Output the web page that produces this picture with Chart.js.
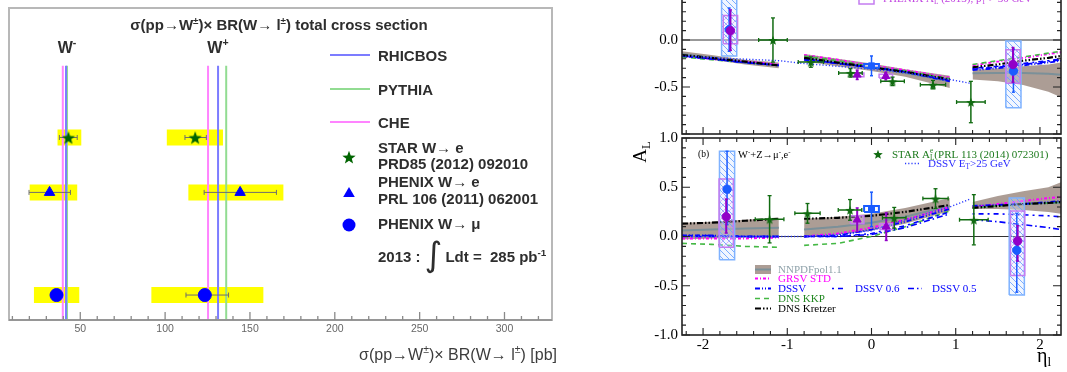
<!DOCTYPE html>
<html>
<head>
<meta charset="utf-8">
<script src="https://cdn.jsdelivr.net/npm/chart.js@4.4.1/dist/chart.umd.min.js"></script>
<style>
  html, body { margin: 0; padding: 0; background: #fff; width: 1067px; height: 372px; overflow: hidden; position: relative; }
  canvas { position: absolute; }
  #left { left: 0; top: 0; }
  #top { left: 600px; top: -60px; }
  #bottom { left: 600px; top: 130px; }
</style>
</head>
<body>
<canvas id="left" width="560" height="372"></canvas>
<canvas id="top" width="467" height="200"></canvas>
<canvas id="bottom" width="467" height="242"></canvas>
<script>
// ---- left panel: total cross sections (pb) ----
const rowLabels = ['STAR W→ e', 'PHENIX W→ e', 'PHENIX W→ μ'];
const rowPos = [5.85, 4.09, 0.8];
const wMinus = [43.0, 31.9, 36.0];
const wMinusStat = [[37.7, 48.2], [19.8, 44.2], [34.5, 37.5]];
const wMinusSyst = [[36.6, 50.6], [20.2, 48.2], [22.7, 49.4]];
const wPlus = [117.7, 144.2, 123.4];
const wPlusStat = [[111.7, 124.3], [123.0, 165.6], [112.3, 137.4]];
const wPlusSyst = [[101.0, 134.1], [113.7, 169.7], [91.9, 157.9]];
const theoryNames = ['RHICBOS', 'PYTHIA', 'CHE'];
const theoryWMinus = [41.6, 42.2, 39.7];
const theoryWPlus = [131.2, 136.0, 125.3];
const theoryReach = 8.15;
const sigmaTicks = [50, 100, 150, 200, 250, 300];

// ---- right panels: A_L vs eta ----
const etaTicks = [-2, -1, 0, 1, 2];
const alTicksTop = [-0.5, 0, 0.5];
const alTicksBottom = [-1, -0.5, 0, 0.5, 1];
const etaTheory = [-2.25, -1.9, -1.5, -1.1, -0.95, -0.8, -0.4, 0, 0.4, 0.93, 1.05, 1.2, 1.5, 1.8, 2.1, 2.25];

// (a) upper panel
const nnpdfA   = [-0.15, -0.19, -0.23, -0.27, null, -0.19, -0.24, -0.29, -0.35, -0.44, null, -0.355, -0.35, -0.35, -0.36, -0.37];
const nnpdfAHi = [-0.12, -0.16, -0.21, -0.24, null, -0.15, -0.20, -0.25, -0.31, -0.38, null, -0.32, -0.30, -0.28, -0.26, -0.24];
const nnpdfALo = [-0.17, -0.21, -0.26, -0.30, null, -0.23, -0.28, -0.33, -0.39, -0.51, null, -0.42, -0.44, -0.48, -0.55, -0.61];
const grsvA    = [-0.17, -0.20, -0.23, -0.26, null, -0.16, -0.21, -0.27, -0.32, -0.40, null, -0.27, -0.23, -0.19, -0.15, -0.13];
const dssvA    = [-0.17, -0.20, -0.24, -0.27, null, -0.21, -0.25, -0.29, -0.34, -0.44, null, -0.32, -0.30, -0.27, -0.24, -0.22];
const dssv06A  = [-0.17, -0.20, -0.24, -0.27, null, -0.20, -0.25, -0.29, -0.34, -0.43, null, -0.30, -0.28, -0.25, -0.22, -0.20];
const dssv05A  = [-0.17, -0.20, -0.24, -0.27, null, -0.20, -0.25, -0.29, -0.34, -0.43, null, -0.31, -0.29, -0.26, -0.23, -0.21];
const kkpA     = [-0.18, -0.21, -0.24, -0.27, null, -0.17, -0.22, -0.28, -0.33, -0.41, null, -0.26, -0.22, -0.18, -0.14, -0.12];
const kretzerA = [-0.16, -0.19, -0.23, -0.27, null, -0.19, -0.24, -0.29, -0.34, -0.42, null, -0.29, -0.26, -0.22, -0.19, -0.17];

// (b) lower panel
const nnpdfB   = [0.06, 0.07, 0.08, 0.09, null, 0.07, 0.10, 0.14, 0.20, 0.31, null, 0.31, 0.32, 0.33, 0.34, 0.34];
const nnpdfBHi = [0.14, 0.15, 0.17, 0.19, null, 0.18, 0.20, 0.23, 0.29, 0.39, null, 0.35, 0.41, 0.46, 0.50, 0.55];
const nnpdfBLo = [-0.03, -0.02, -0.01, -0.01, null, -0.01, 0.02, 0.06, 0.13, 0.26, null, 0.28, 0.28, 0.27, 0.25, 0.23];
const grsvB    = [-0.02, -0.02, -0.02, -0.01, null, 0.00, 0.03, 0.09, 0.17, 0.30, null, 0.30, 0.33, 0.36, 0.39, 0.40];
const dssvB    = [0.01, 0.01, 0.00, 0.00, null, 0.00, 0.01, 0.07, 0.15, 0.28, null, 0.31, 0.32, 0.33, 0.35, 0.36];
const dssv06B  = [0.01, 0.01, 0.00, 0.00, null, 0.00, 0.00, 0.03, 0.11, 0.25, null, 0.23, 0.23, 0.22, 0.21, 0.20];
const dssv05B  = [0.00, 0.00, 0.00, 0.00, null, 0.00, 0.00, 0.02, 0.09, 0.23, null, 0.17, 0.15, 0.12, 0.09, 0.07];
const kkpB     = [-0.07, -0.08, -0.10, -0.11, null, -0.09, -0.07, 0.00, 0.10, 0.26, null, 0.29, 0.31, 0.33, 0.34, 0.35];
const kretzerB = [0.13, 0.14, 0.16, 0.18, null, 0.18, 0.19, 0.21, 0.25, 0.32, null, 0.29, 0.31, 0.33, 0.34, 0.35];

const etaDssvEt = [-2.25, -1.6, -1.1, -0.8, -0.4, 0, 0.4, 0.93, 1.17];
const dssvEtA = [-0.17, -0.20, -0.22, -0.25, -0.28, -0.31, -0.35, -0.42, -0.46];
const dssvEtB = [0.00, 0.00, 0.00, 0.00, 0.02, 0.06, 0.17, 0.30, 0.38];

// STAR
const starEtaA = [-1.17, -0.72, -0.25, 0.25, 0.73, 1.18];
const starA    = [0.0, -0.235, -0.35, -0.44, -0.475, -0.66];
const starErrA = [0.235, 0.055, 0.045, 0.045, 0.045, 0.22];
const starEtaB = [-1.21, -0.76, -0.255, 0.27, 0.76, 1.215];
const starB    = [0.175, 0.235, 0.27, 0.19, 0.385, 0.17];
const starErrB = [0.24, 0.10, 0.105, 0.105, 0.10, 0.255];
const starEtaErr = [0.17, 0.15, 0.14, 0.14, 0.15, 0.17];

// PHENIX (purple)
const phxPurpleEtaA = [-1.675, -0.17, 0.17, 1.68];
const phxPurpleA    = [0.10, -0.37, -0.385, -0.26];
const phxPurpleLoA  = [0.21, 0.05, 0.04, 0.19];
const phxPurpleHiA  = [0.22, 0.05, 0.04, 0.18];
const phxPurpleSysLoA = [-0.04, -0.39, -0.405, -0.46];
const phxPurpleSysHiA = [0.26, -0.35, -0.365, -0.105];
const phxPurpleEtaB = [-1.725, -0.17, 0.175, 1.735];
const phxPurpleB    = [0.20, 0.17, 0.10, -0.045];
const phxPurpleLoB  = [0.165, 0.12, 0.14, 0.205];
const phxPurpleHiB  = [0.18, 0.12, 0.14, 0.155];
const phxPurpleSysLoB = [-0.11, 0.13, 0.07, -0.395];
const phxPurpleSysHiB = [0.585, 0.21, 0.13, 0.26];
const phxPurpleHalfWidth = [0.085, 0.08, 0.08, 0.085];

// PHENIX (blue)
const phxBlueEtaA = [-1.69, 0.0, 1.685];
const phxBlueA    = [0.11, -0.275, -0.33];
const phxBlueLoA  = [0.23, 0.105, 0.225];
const phxBlueHiA  = [0.23, 0.105, 0.23];
const phxBlueSysLoA = [-0.17, -0.295, -0.72];
const phxBlueSysHiA = [0.50, -0.255, -0.01];
const phxBlueEtaB = [-1.715, 0.0, 1.725];
const phxBlueB    = [0.48, 0.28, -0.14];
const phxBlueLoB  = [0.36, 0.18, 0.425];
const phxBlueHiB  = [0.385, 0.17, 0.375];
const phxBlueSysLoB = [-0.235, 0.25, -0.595];
const phxBlueSysHiB = [0.865, 0.31, 0.39];
const phxBlueHalfWidth = [0.09, 0.088, 0.09];

const SANS = "'Liberation Sans', Arial, sans-serif";
const SERIF = "'Liberation Serif', 'Times New Roman', serif";
const GREEN = '#116b11';
const PURPLE = '#9200c8';
const PURPLE_BOX = '#c47cf0';
const BLUE = '#1a5cff';
const BLUE_BOX = '#7fb2ff';
const BAND = 'rgba(163,146,138,0.9)';
const BAND_LINE = '#7b9099';

const styles = {
  grsv: { color: '#ff00ff', dash: [3, 2, 1, 2], width: 2 },
  dssv: { color: '#0000ff', dash: [5, 2, 1, 2, 1, 2], width: 1.8 },
  dssv06: { color: '#0000ff', dash: [2, 4, 5, 4], width: 1.6 },
  dssv05: { color: '#0000ff', dash: [6, 3, 1.5, 3], width: 1.6 },
  kkp: { color: '#44b844', dash: [5, 4], width: 1.6 },
  kretzer: { color: '#000000', dash: [6, 2, 1.5, 2, 1.5, 2], width: 2.2 },
  dssvEt: { color: '#2a3cff', dash: [1.2, 2], width: 1.4 },
};

// super/subscript text helper, parts: [text, 0 normal | 1 sup | -1 sub | 2 stacked [sup, sub]]
function drawRich(ctx, x, y, parts, o) {
  const small = o.size * 0.66;
  const font = (s) => `${o.weight || 'normal'} ${s}px ${o.family}`;
  const widthOf = (p) => {
    if (p[1] === 2) {
      ctx.font = font(small);
      return Math.max(ctx.measureText(p[0][0]).width, ctx.measureText(p[0][1]).width);
    }
    ctx.font = font(p[1] ? small : o.size);
    return ctx.measureText(p[0]).width;
  };
  let total = 0;
  parts.forEach((p) => { total += widthOf(p); });
  let cx = o.align === 'right' ? x - total : o.align === 'center' ? x - total / 2 : x;
  ctx.save();
  ctx.fillStyle = o.color;
  ctx.textBaseline = 'alphabetic';
  ctx.textAlign = 'left';
  parts.forEach((p) => {
    const w = widthOf(p);
    if (p[1] === 2) {
      ctx.font = font(small);
      ctx.fillText(p[0][0], cx, y - o.size * 0.42);
      ctx.fillText(p[0][1], cx, y + o.size * 0.22);
    } else {
      ctx.font = font(p[1] ? small : o.size);
      const dy = p[1] === 1 ? -o.size * 0.42 : p[1] === -1 ? o.size * 0.22 : 0;
      ctx.fillText(p[0], cx, y + dy);
    }
    cx += w;
  });
  ctx.restore();
  return total;
}

function starImage(r, color) {
  const s = Math.ceil(r * 2 + 2);
  const c = document.createElement('canvas');
  c.width = s; c.height = s;
  const g = c.getContext('2d');
  g.fillStyle = color;
  g.beginPath();
  for (let i = 0; i < 10; i++) {
    const rad = i % 2 ? r * 0.42 : r;
    const a = -Math.PI / 2 + i * Math.PI / 5;
    g.lineTo(s / 2 + rad * Math.cos(a), s / 2 + 0.8 + rad * Math.sin(a));
  }
  g.closePath();
  g.fill();
  return c;
}

function hatch(line, bg, dir) {
  const c = document.createElement('canvas');
  c.width = 6; c.height = 6;
  const g = c.getContext('2d');
  if (bg) { g.fillStyle = bg; g.fillRect(0, 0, 6, 6); }
  g.strokeStyle = line;
  g.lineWidth = 1;
  g.beginPath();
  if (dir > 0) {
    g.moveTo(-1, -1); g.lineTo(7, 7); g.moveTo(-1, 5); g.lineTo(1, 7); g.moveTo(5, -1); g.lineTo(7, 1);
  } else {
    g.moveTo(-1, 7); g.lineTo(7, -1); g.moveTo(-1, 1); g.lineTo(1, -1); g.moveTo(5, 7); g.lineTo(7, 5);
  }
  g.stroke();
  return g.createPattern(c, 'repeat');
}

const starBig = starImage(7, '#006400');
const starSmall = starImage(5, GREEN);
const hatchBlue = hatch('rgba(105,160,255,0.85)', 'rgba(215,230,255,0.35)', 1);
const hatchPurple = hatch('rgba(200,120,240,0.55)', null, -1);

const pts = (xs, ys) => xs.map((x, i) => ({ x, y: ys[i] }));
function vBarData(xs, ys, lo, hi) {
  const d = [];
  xs.forEach((x, i) => { d.push({ x, y: ys[i] - lo[i] }, { x, y: ys[i] + hi[i] }, { x, y: null }); });
  return d;
}
function hBarData(xs, ys, w) {
  const d = [];
  xs.forEach((x, i) => { d.push({ x: x - w[i], y: ys[i] }, { x: x + w[i], y: ys[i] }, { x: x + w[i], y: null }); });
  return d;
}
function boxData(x, hw, lo, hi) {
  return [{ x: x - hw, y: lo }, { x: x + hw, y: lo }, { x: x + hw, y: hi }, { x: x - hw, y: hi }, { x: x - hw, y: lo }];
}

// stops Chart.js from shrinking the plot area for label overhang
function noScalePadding(s) {
  s.paddingTop = 0; s.paddingBottom = 0; s.paddingLeft = 0; s.paddingRight = 0;
}

// ================= left chart =================
const yellowData = [];
const statData = [];
rowPos.forEach((y, i) => {
  [wMinusSyst[i], wPlusSyst[i]].forEach((s) => { yellowData.push({ x: s[0], y }, { x: s[1], y }, { x: s[1], y: null }); });
  [wMinusStat[i], wPlusStat[i]].forEach((s) => { statData.push({ x: s[0], y }, { x: s[1], y }, { x: s[1], y: null }); });
});
const theoryColors = ['#7c7cff', '#92dc92', '#ff84ff'];
const theoryDatasets = theoryNames.map((name, i) => ({
  label: name,
  data: [{ x: theoryWMinus[i], y: 0 }, { x: theoryWMinus[i], y: theoryReach }, { x: theoryWMinus[i], y: null },
         { x: theoryWPlus[i], y: 0 }, { x: theoryWPlus[i], y: theoryReach }],
  borderColor: theoryColors[i], borderWidth: 2, pointRadius: 0, order: 3,
}));
const markerStyles = [starBig, 'triangle', 'circle'];
const markerRadius = [7, 6, 6.5];
const markerColors = ['#006400', '#0000ff', '#0000ff'];
const markerDatasets = rowLabels.map((name, i) => ({
  label: name,
  data: [{ x: wMinus[i], y: rowPos[i] }, { x: wPlus[i], y: rowPos[i] }],
  showLine: false, pointStyle: markerStyles[i], pointRadius: markerRadius[i],
  pointBackgroundColor: markerColors[i], pointBorderColor: markerColors[i], pointBorderWidth: 1, order: 1,
}));

const leftDecor = {
  id: 'leftDecor',
  afterDraw(chart) {
    const { ctx, chartArea: a, scales: { x } } = chart;
    ctx.save();
    ctx.strokeStyle = '#b8b8b8';
    ctx.lineWidth = 2;
    ctx.strokeRect(a.left, a.top, a.right - a.left, a.bottom - a.top);
    ctx.strokeStyle = '#8a8a8a';
    ctx.lineWidth = 1.3;
    ctx.beginPath();
    ctx.moveTo(a.left, a.bottom); ctx.lineTo(a.right, a.bottom);
    for (let v = 10; v <= 320; v += 10) {
      const px = x.getPixelForValue(v);
      const len = v % 50 ? 4 : 8;
      ctx.moveTo(px, a.bottom); ctx.lineTo(px, a.bottom - len);
    }
    ctx.stroke();

    const bold = { size: 15, family: SANS, weight: 'bold', color: '#2e2e2e' };
    drawRich(ctx, 279, 30, [['σ(pp→W', 0], ['±', 1], [')× BR(W→ l', 0], ['±', 1], [') total cross section', 0]], { ...bold, align: 'center' });
    drawRich(ctx, 67, 53, [['W', 0], ['-', 1]], { ...bold, size: 16, align: 'center' });
    drawRich(ctx, 218, 53, [['W', 0], ['+', 1]], { ...bold, size: 16, align: 'center' });

    // legend
    const legY = [55, 89, 122];
    theoryNames.forEach((name, i) => {
      ctx.strokeStyle = theoryColors[i];
      ctx.lineWidth = 2;
      ctx.beginPath(); ctx.moveTo(330, legY[i]); ctx.lineTo(370, legY[i]); ctx.stroke();
      drawRich(ctx, 378, legY[i] + 5.5, [[name, 0]], bold);
    });
    ctx.drawImage(starBig, 349 - starBig.width / 2, 157 - starBig.height / 2);
    drawRich(ctx, 378, 152.5, [['STAR W→ e', 0]], bold);
    drawRich(ctx, 378, 168.5, [['PRD85 (2012) 092010', 0]], bold);
    ctx.fillStyle = '#0000ff';
    ctx.beginPath();
    ctx.moveTo(349, 187); ctx.lineTo(354.8, 197); ctx.lineTo(343.2, 197); ctx.closePath(); ctx.fill();
    drawRich(ctx, 378, 187, [['PHENIX W→ e', 0]], bold);
    drawRich(ctx, 378, 203.5, [['PRL 106 (2011) 062001', 0]], bold);
    ctx.beginPath(); ctx.arc(349, 225, 6.5, 0, Math.PI * 2); ctx.fill();
    drawRich(ctx, 378, 228.5, [['PHENIX W→ μ', 0]], bold);
    let cx = 378;
    cx += drawRich(ctx, cx, 262, [['2013 : ', 0]], bold);
    cx += drawRich(ctx, cx, 266, [['∫', 0]], { size: 34, family: "'DejaVu Sans', sans-serif", color: '#2e2e2e' });
    drawRich(ctx, cx + 3, 262, [['Ldt =  285 pb', 0], ['-1', 1]], bold);

    drawRich(ctx, 557, 360, [['σ(pp→W', 0], ['±', 1], [')× BR(W→ l', 0], ['±', 1], [') [pb]', 0]],
      { size: 16, family: SANS, color: '#3c3c3c', align: 'right' });
    ctx.restore();
  },
};

new Chart(document.getElementById('left'), {
  type: 'line',
  data: {
    datasets: [
      ...markerDatasets,
      { label: 'stat', data: statData, borderColor: '#6e6e6e', borderWidth: 1, pointStyle: 'line', pointRotation: 90,
        pointRadius: 2.5, pointBorderColor: '#6e6e6e', pointBorderWidth: 1, order: 2 },
      ...theoryDatasets,
      { label: 'syst', data: yellowData, borderColor: '#ffff00', borderWidth: 16, borderCapStyle: 'butt', pointRadius: 0, order: 4 },
    ],
  },
  options: {
    responsive: false, animation: false, devicePixelRatio: 1, events: [],
    layout: { padding: { left: 9, top: 7, right: 3, bottom: 0 } },
    plugins: { legend: { display: false }, tooltip: { enabled: false } },
    scales: {
      x: {
        type: 'linear', min: 8, max: 328,
        grid: { display: false, drawTicks: false }, border: { display: false },
        ticks: { font: { family: SANS, size: 10.5, lineHeight: 1 }, color: '#666', padding: 4 },
        afterBuildTicks: (s) => { s.ticks = sigmaTicks.map((value) => ({ value })); },
        afterFit: (s) => { s.height = 52; noScalePadding(s); },
      },
      y: { min: 0, max: 10, display: false },
    },
  },
  plugins: [leftDecor],
});

// ================= right charts =================
const axesFrame = {
  id: 'axesFrame',
  beforeDatasetsDraw(chart) {
    const { ctx, chartArea: a, scales: { y } } = chart;
    const y0 = y.getPixelForValue(0);
    ctx.save();
    ctx.strokeStyle = '#333';
    ctx.lineWidth = 1;
    ctx.beginPath(); ctx.moveTo(a.left, y0); ctx.lineTo(a.right, y0); ctx.stroke();
    ctx.restore();
  },
  afterDatasetsDraw(chart) {
    const { ctx, chartArea: a, scales: { x, y } } = chart;
    ctx.save();
    ctx.strokeStyle = '#222';
    ctx.lineWidth = 1.6;
    ctx.strokeRect(a.left, a.top, a.right - a.left, a.bottom - a.top);
    ctx.lineWidth = 1.1;
    ctx.beginPath();
    for (let i = -11; i <= 11; i++) {
      const px = x.getPixelForValue(i * 0.2);
      const len = i % 5 === 0 ? 7 : 4;
      ctx.moveTo(px, a.bottom); ctx.lineTo(px, a.bottom - len);
      ctx.moveTo(px, a.top); ctx.lineTo(px, a.top + len);
    }
    for (let i = -10; i <= 10; i++) {
      const py = y.getPixelForValue(i * 0.1);
      const len = i % 5 === 0 ? 8 : 4;
      ctx.moveTo(a.left, py); ctx.lineTo(a.left + len, py);
      ctx.moveTo(a.right, py); ctx.lineTo(a.right - len, py);
    }
    ctx.stroke();
    ctx.restore();
  },
};

function curve(vals, st, order) {
  return { data: pts(etaTheory, vals), borderColor: st.color, borderDash: st.dash, borderWidth: st.width, pointRadius: 0, order };
}

function panelDatasets(d) {
  const out = [];
  // markers
  out.push({ data: pts(d.starEta, d.star), showLine: false, pointStyle: starSmall, pointRadius: 5, order: 1 });
  out.push({ data: pts(d.purpleEta, d.purple), showLine: false,
    pointStyle: ['circle', 'triangle', 'triangle', 'circle'], pointRadius: [4.2, 4.6, 4.6, 4.2],
    pointBackgroundColor: PURPLE, pointBorderColor: PURPLE, order: 1 });
  out.push({ data: pts(d.blueEta, d.blue), showLine: false,
    pointStyle: ['circle', 'rect', 'circle'], pointRadius: [4.2, 4.2, 4.2],
    pointBackgroundColor: BLUE, pointBorderColor: BLUE, order: 1 });
  // error bars
  out.push({ data: vBarData(d.starEta, d.star, d.starErr, d.starErr), borderColor: GREEN, borderWidth: 1.5,
    pointStyle: 'line', pointRadius: 2, pointBorderColor: GREEN, pointBorderWidth: 1.3, order: 2 });
  out.push({ data: hBarData(d.starEta, d.star, starEtaErr), borderColor: GREEN, borderWidth: 1.5,
    pointStyle: 'line', pointRotation: 90, pointRadius: 2, pointBorderColor: GREEN, pointBorderWidth: 1.3, order: 2 });
  out.push({ data: vBarData(d.purpleEta, d.purple, d.purpleLo, d.purpleHi), borderColor: PURPLE, borderWidth: 2,
    pointStyle: 'line', pointRadius: 1.5, pointBorderColor: PURPLE, pointBorderWidth: 1.5, order: 2 });
  out.push({ data: vBarData(d.blueEta, d.blue, d.blueLo, d.blueHi), borderColor: BLUE, borderWidth: 1.5,
    pointStyle: 'line', pointRadius: 1.5, pointBorderColor: BLUE, pointBorderWidth: 1.5, order: 2.5 });
  // systematic boxes
  d.purpleEta.forEach((e, i) => {
    out.push({ data: boxData(e, phxPurpleHalfWidth[i], d.purpleSysLo[i], d.purpleSysHi[i]), fill: 'shape',
      backgroundColor: i === 0 || i === 3 ? hatchPurple : 'rgba(230,200,250,0.35)',
      borderColor: PURPLE_BOX, borderWidth: 1.5, pointRadius: 0, order: 3 });
  });
  d.blueEta.forEach((e, i) => {
    out.push({ data: boxData(e, phxBlueHalfWidth[i], d.blueSysLo[i], d.blueSysHi[i]), fill: 'shape',
      backgroundColor: i === 1 ? 'rgba(255,255,255,0.8)' : hatchBlue,
      borderColor: i === 1 ? BLUE : BLUE_BOX, borderWidth: i === 1 ? 2 : 1.5, pointRadius: 0, order: 3.5 });
  });
  // theory curves
  out.push({ data: pts(etaDssvEt, d.dssvEt), borderColor: styles.dssvEt.color, borderDash: styles.dssvEt.dash,
    borderWidth: styles.dssvEt.width, pointRadius: 0, order: 4 });
  out.push(curve(d.kretzer, styles.kretzer, 4));
  out.push(curve(d.dssv05, styles.dssv05, 4));
  out.push(curve(d.dssv06, styles.dssv06, 4));
  out.push(curve(d.dssv, styles.dssv, 4));
  out.push(curve(d.kkp, styles.kkp, 4));
  out.push(curve(d.grsv, styles.grsv, 4));
  out.push({ data: pts(etaTheory, d.nnpdf), borderColor: BAND_LINE, borderWidth: 2, pointRadius: 0, order: 5 });
  // NNPDF band
  out.push({ data: pts(etaTheory, d.nnpdfHi), borderColor: 'transparent', borderWidth: 0, pointRadius: 0, fill: false, order: 6 });
  out.push({ data: pts(etaTheory, d.nnpdfLo), borderColor: 'transparent', borderWidth: 0, pointRadius: 0, fill: '-1', backgroundColor: BAND, order: 6 });
  return out;
}

function panelOptions(showX, yTicks, pad) {
  return {
    responsive: false, animation: false, devicePixelRatio: 1, events: [],
    layout: { padding: pad },
    plugins: { legend: { display: false }, tooltip: { enabled: false } },
    scales: {
      x: {
        type: 'linear', min: -2.25, max: 2.25, display: showX,
        grid: { display: false, drawTicks: false }, border: { display: false },
        ticks: { font: { family: SERIF, size: 15, lineHeight: 1 }, color: '#000', padding: 3, callback: (v) => String(v) },
        afterBuildTicks: (s) => { s.ticks = etaTicks.map((value) => ({ value })); },
        afterFit: (s) => { s.height = showX ? 37 : 0; noScalePadding(s); },
      },
      y: {
        min: -1, max: 1,
        grid: { display: false, drawTicks: false }, border: { display: false },
        ticks: { font: { family: SERIF, size: 15, lineHeight: 1 }, color: '#000', padding: 4, callback: (v) => Number(v).toFixed(1) },
        afterBuildTicks: (s) => { s.ticks = yTicks.map((value) => ({ value })); },
        afterFit: (s) => { s.width = 82; noScalePadding(s); },
      },
    },
  };
}

const topText = {
  id: 'topText',
  afterDraw(chart) {
    const ctx = chart.ctx;
    ctx.save();
    ctx.translate(-600, 60);
    ctx.strokeStyle = PURPLE_BOX;
    ctx.lineWidth = 1.5;
    ctx.strokeRect(859, -8, 15, 12);
    ctx.fillStyle = PURPLE;
    ctx.fillRect(864.5, -4, 4, 4);
    drawRich(ctx, 883, 2, [['PHENIX A', 0], [['μ', 'L'], 2], [' (2013), p', 0], ['T', -1], [' > 30 GeV', 0]],
      { size: 11, family: SERIF, color: '#c040e0' });
    ctx.restore();
  },
};

function legendLine(ctx, x0, x1, y, st) {
  ctx.save();
  ctx.strokeStyle = st.color;
  ctx.lineWidth = st.width;
  ctx.setLineDash(st.dash);
  ctx.beginPath(); ctx.moveTo(x0, y); ctx.lineTo(x1, y); ctx.stroke();
  ctx.restore();
}

const bottomText = {
  id: 'bottomText',
  afterDraw(chart) {
    const ctx = chart.ctx;
    ctx.save();
    ctx.translate(-600, -130);
    drawRich(ctx, 698, 157, [['(b)', 0]], { size: 9.5, family: SERIF, color: '#000' });
    drawRich(ctx, 738, 158, [['W', 0], ['-', 1], ['+Z→μ', 0], ['-', 1], [',e', 0], ['-', 1]], { size: 10.5, family: SERIF, color: '#000' });
    ctx.drawImage(starSmall, 878 - starSmall.width / 2, 154 - starSmall.height / 2);
    drawRich(ctx, 892, 158, [['STAR A', 0], [['e', 'L'], 2], ['(PRL 113 (2014) 072301)', 0]], { size: 11, family: SERIF, color: '#1c7a1c' });
    legendLine(ctx, 905, 920, 163.5, styles.dssvEt);
    drawRich(ctx, 928, 167, [['DSSV E', 0], ['T', -1], ['>25 GeV', 0]], { size: 11, family: SERIF, color: '#2a2aff' });

    ctx.fillStyle = BAND;
    ctx.fillRect(755, 265, 16, 9);
    ctx.strokeStyle = BAND_LINE;
    ctx.lineWidth = 2;
    ctx.beginPath(); ctx.moveTo(755, 269.5); ctx.lineTo(771, 269.5); ctx.stroke();
    const f = { size: 11, family: SERIF };
    drawRich(ctx, 778, 273, [['NNPDFpol1.1', 0]], { ...f, color: '#8fa2aa' });
    legendLine(ctx, 755, 771, 278.5, styles.grsv);
    drawRich(ctx, 778, 282, [['GRSV STD', 0]], { ...f, color: '#ff00ff' });
    legendLine(ctx, 755, 771, 288.5, styles.dssv);
    drawRich(ctx, 778, 292, [['DSSV', 0]], { ...f, color: '#0000ff' });
    legendLine(ctx, 832, 845, 288.5, styles.dssv06);
    drawRich(ctx, 855, 292, [['DSSV 0.6', 0]], { ...f, color: '#0000ff' });
    legendLine(ctx, 908, 922, 288.5, styles.dssv05);
    drawRich(ctx, 932, 292, [['DSSV 0.5', 0]], { ...f, color: '#0000ff' });
    legendLine(ctx, 755, 771, 298.5, styles.kkp);
    drawRich(ctx, 778, 302, [['DNS KKP', 0]], { ...f, color: '#228822' });
    legendLine(ctx, 755, 771, 308.5, styles.kretzer);
    drawRich(ctx, 778, 312, [['DNS Kretzer', 0]], { ...f, color: '#000' });

    ctx.save();
    ctx.translate(646, 152);
    ctx.rotate(-Math.PI / 2);
    drawRich(ctx, 0, 0, [['A', 0], ['L', -1]], { size: 19, family: SERIF, color: '#000', align: 'center' });
    ctx.restore();
    drawRich(ctx, 1037, 362, [['η', 0], ['l', -1]], { size: 20, family: SERIF, color: '#000' });
    ctx.restore();
  },
};

new Chart(document.getElementById('top'), {
  type: 'line',
  data: {
    datasets: panelDatasets({
      starEta: starEtaA, star: starA, starErr: starErrA,
      purpleEta: phxPurpleEtaA, purple: phxPurpleA, purpleLo: phxPurpleLoA, purpleHi: phxPurpleHiA,
      purpleSysLo: phxPurpleSysLoA, purpleSysHi: phxPurpleSysHiA,
      blueEta: phxBlueEtaA, blue: phxBlueA, blueLo: phxBlueLoA, blueHi: phxBlueHiA,
      blueSysLo: phxBlueSysLoA, blueSysHi: phxBlueSysHiA,
      nnpdf: nnpdfA, nnpdfHi: nnpdfAHi, nnpdfLo: nnpdfALo,
      grsv: grsvA, dssv: dssvA, dssv06: dssv06A, dssv05: dssv05A, kkp: kkpA, kretzer: kretzerA, dssvEt: dssvEtA,
    }),
  },
  options: panelOptions(false, alTicksTop, { left: 0, right: 2, top: 2, bottom: 2 }),
  plugins: [axesFrame, topText],
});

new Chart(document.getElementById('bottom'), {
  type: 'line',
  data: {
    datasets: panelDatasets({
      starEta: starEtaB, star: starB, starErr: starErrB,
      purpleEta: phxPurpleEtaB, purple: phxPurpleB, purpleLo: phxPurpleLoB, purpleHi: phxPurpleHiB,
      purpleSysLo: phxPurpleSysLoB, purpleSysHi: phxPurpleSysHiB,
      blueEta: phxBlueEtaB, blue: phxBlueB, blueLo: phxBlueLoB, blueHi: phxBlueHiB,
      blueSysLo: phxBlueSysLoB, blueSysHi: phxBlueSysHiB,
      nnpdf: nnpdfB, nnpdfHi: nnpdfBHi, nnpdfLo: nnpdfBLo,
      grsv: grsvB, dssv: dssvB, dssv06: dssv06B, dssv05: dssv05B, kkp: kkpB, kretzer: kretzerB, dssvEt: dssvEtB,
    }),
  },
  options: panelOptions(true, alTicksBottom, { left: 0, right: 2, top: 8, bottom: 0 }),
  plugins: [axesFrame, bottomText],
});
</script>
</body>
</html>
